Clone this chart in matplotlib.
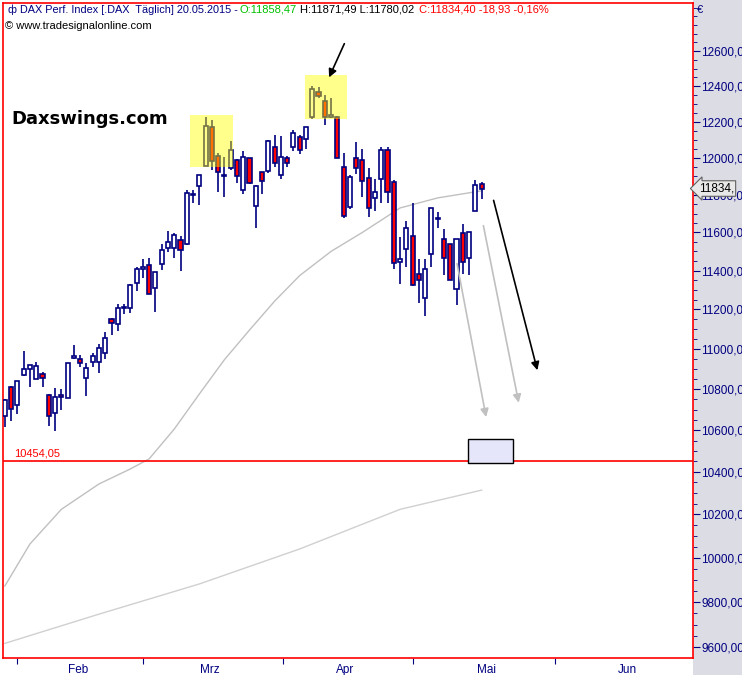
import numpy as np
import matplotlib.pyplot as plt
from matplotlib.patches import Rectangle
from matplotlib.ticker import FixedLocator, NullFormatter

# Tageskerzen 29.01.2015 - 20.05.2015 (O, H, L, C)
opens = [10668, 10810, 10722, 10868, 10898, 10849, 10873, 10771, 10683, 10771,
         10756, 10956, 10951, 10854, 10932, 10932, 10980, 11151, 11127, 11205,
         11205, 11337, 11410, 11426, 11311, 11432, 11516, 11516, 11558, 11537,
         11800, 11849, 11957, 12172, 12011, 11903, 11946, 11989, 11827, 12000,
         11741, 11924, 11930, 12061, 11908, 12000, 12061, 12117, 12105, 12228,
         12367, 12317, 12228, 12228, 11951, 11735, 12000, 11989, 11892, 11784,
         11887, 12044, 11870, 11442, 11510, 11579, 11379, 11258, 11484, 11676,
         11563, 11537, 11305, 11595, 11468, 11714, 11858.47]
highs = [10751, 10815, 10839, 10990, 10917, 10932, 10883, 10776, 10805, 10800,
         10927, 11020, 10971, 10927, 10980, 11024, 11083, 11156, 11226, 11226,
         11332, 11416, 11458, 11468, 11390, 11537, 11605, 11595, 11579, 11827,
         11827, 11908, 12228, 12211, 12028, 12006, 12094, 11995, 12039, 12000,
         11854, 11924, 12100, 12128, 12122, 12011, 12155, 12128, 12172, 12400,
         12394, 12350, 12333, 12233, 12028, 11908, 12089, 12050, 11946, 11887,
         12061, 12061, 11881, 11574, 11659, 11757, 11458, 11458, 11730, 11708,
         11616, 11537, 11563, 11643, 11600, 11881, 11871.49]
lows = [10615, 10644, 10678, 10863, 10810, 10849, 10810, 10620, 10595, 10698,
        10756, 10951, 10912, 10766, 10912, 10878, 10951, 11068, 11088, 11176,
        11180, 11295, 11363, 11279, 11185, 11405, 11495, 11463, 11400, 11532,
        11757, 11746, 11957, 11935, 11816, 11789, 11935, 11865, 11806, 11859,
        11622, 11806, 11919, 11951, 11887, 11951, 12039, 12022, 12050, 12217,
        12333, 12183, 12222, 12000, 11676, 11724, 11914, 11789, 11681, 11714,
        11757, 11757, 11410, 11332, 11416, 11321, 11232, 11166, 11416, 11622,
        11379, 11353, 11221, 11384, 11379, 11714, 11780.02]
closes = [10746, 10702, 10839, 10898, 10917, 10912, 10854, 10668, 10761, 10761,
          10927, 10966, 10927, 10902, 10966, 11005, 11054, 11132, 11205, 11210,
          11326, 11405, 11416, 11279, 11390, 11505, 11547, 11584, 11505, 11811,
          11806, 11908, 12178, 11984, 11924, 11908, 12044, 11903, 12006, 11865,
          11849, 11876, 12094, 11973, 12006, 11973, 12139, 12044, 12172, 12383,
          12344, 12228, 12239, 12000, 11687, 11897, 11946, 11876, 11730, 11816,
          12044, 11816, 11437, 11458, 11622, 11326, 11353, 11410, 11730, 11670,
          11468, 11353, 11563, 11447, 11600, 11853, 11834.40]

# gleitende Durchschnitte (Stuetzpunkte)
ma_fast_x = [0, 4, 9, 15, 20, 23, 27, 31, 35, 39, 43, 47, 52, 57, 63, 69, 76]
ma_fast_y = [9873, 10064, 10224, 10343, 10414, 10462, 10605, 10776, 10946,
             11095, 11242, 11374, 11500, 11600, 11730, 11784, 11822]
ma_slow_x = [0, 15, 31, 47, 63, 76]
ma_slow_y = [9618, 9747, 9882, 10041, 10224, 10314]

support = 10454.05
month_ticks = [2, 22, 44.3, 65, 87.7]
month_labels = ["Feb", "Mrz", "Apr", "Mai", "Jun"]
month_label_pos = [11.6, 32.6, 54.2, 76.8, 99.2]
y_ticks = list(range(9600, 12601, 200))

plt.rcParams['font.family'] = ['Liberation Sans', 'DejaVu Sans']
navy = "#000080"
W, H = 742, 675
fig = plt.figure(figsize=(W / 100, H / 100), dpi=100)

# grauer Achsenbereich rechts
bg = fig.add_axes([693 / W, 0, 49 / W, 1], zorder=-1)
bg.set_axis_off()
bg.add_patch(Rectangle((0, 0), 1, 1, color="#dcdce4", transform=bg.transAxes))

ax = fig.add_axes([3 / W, 17 / H, 690 / W, 655 / H], zorder=1)
ax.set_yscale("log")
ax.set_xlim(-0.3, 109.7)
ax.set_ylim(9554, 12879)
for s in ax.spines.values():
    s.set_color("red")
    s.set_linewidth(1.2)

idx = np.arange(len(opens))
o = np.array(opens); c = np.array(closes)
up = c >= o
ax.vlines(idx, lows, highs, color=navy, lw=1.2, zorder=2)
ax.bar(idx[up], (c - o)[up] + 0.5, bottom=o[up], width=0.65, color="white",
       edgecolor=navy, lw=1.2, zorder=3)
ax.bar(idx[~up], (o - c)[~up] + 0.5, bottom=c[~up], width=0.65, color="red",
       edgecolor=navy, lw=1.2, zorder=3)

ax.plot(ma_fast_x, ma_fast_y, color="#c0c0c0", lw=1, zorder=1)
ax.plot(ma_slow_x, ma_slow_y, color="#d0d0d0", lw=1, zorder=1)

ax.axhline(support, color="red", lw=1.2, zorder=4)
ax.text(1.5, support + 12, "10454,05", color="red", fontsize=8, va="bottom")
ax.add_patch(Rectangle((73.8, 10443), 7.2, 113, facecolor="#e6e6fa",
                       edgecolor="black", lw=1, zorder=5))

# gelbe Markierungen
ax.add_patch(Rectangle((29.5, 11951), 6.8, 288, color="yellow", alpha=0.45, lw=0, zorder=6))
ax.add_patch(Rectangle((47.8, 12217), 6.7, 246, color="yellow", alpha=0.45, lw=0, zorder=6))

# Pfeile
def arrow(x0, y0, x1, y1, col):
    ax.annotate("", xy=(x1, y1), xytext=(x0, y0),
                arrowprops=dict(arrowstyle="-|>", color=col, lw=1.2,
                                mutation_scale=12), zorder=7)

arrow(54.3, 12657, 51.5, 12435, "black")
arrow(77.8, 11785, 85, 10880, "black")
arrow(72, 11450, 76.8, 10650, "#c0c0c0")
arrow(76.2, 11650, 82, 10720, "#c0c0c0")

ax.text(1, 12190, "Daxswings.com", fontsize=13, fontweight="bold", color="black",
        family="DejaVu Sans")

# Achsen
ax.yaxis.tick_right()
ax.yaxis.set_major_locator(FixedLocator(y_ticks))
ax.yaxis.set_minor_locator(FixedLocator(list(range(9550, 12851, 50))))
ax.yaxis.set_minor_formatter(NullFormatter())
ax.set_yticklabels([f"{v},00" for v in y_ticks])
ax.tick_params(axis="y", which="major", length=5, colors=navy, labelsize=8.5,
               direction="out", pad=1)
ax.tick_params(axis="y", which="minor", length=3, colors=navy)
ax.set_xticks(month_ticks)
ax.set_xticklabels([])
ax.xaxis.set_minor_locator(FixedLocator(month_label_pos))
ax.set_xticklabels(month_labels, minor=True)
ax.tick_params(axis="x", which="major", length=4, colors=navy, direction="out")
ax.tick_params(axis="x", which="minor", length=0, labelcolor=navy, labelsize=8.5, pad=4)

# Kursmarke rechts
ax.text(110.6, 11834.4, "11834,", fontsize=8.5, va="center", ha="left", color="black",
        bbox=dict(boxstyle="larrow,pad=0.15", fc="#e8e8e8", ec="#606060", lw=0.8),
        clip_on=False, zorder=8)

# Kopfzeile
fy = 1 - 10 / H
fig.text(8 / W, fy, "\u0444 DAX Perf. Index [.DAX  Täglich] 20.05.2015 -",
         color=navy, fontsize=7.8, va="center")
fig.text(239 / W, fy, "O:11858,47", color="#00c000", fontsize=8, va="center")
fig.text(300 / W, fy, "H:11871,49 L:11780,02", color="black", fontsize=8, va="center")
fig.text(419 / W, fy, "C:11834,40 -18,93 -0,16%", color="red", fontsize=8, va="center")
fig.text(5 / W, 1 - 26 / H, "\u00a9 www.tradesignalonline.com", color="black",
         fontsize=8, va="center")
fig.text(697 / W, fy, "\u20ac", color=navy, fontsize=8, va="center")

fig.savefig("out.png", dpi=100)
